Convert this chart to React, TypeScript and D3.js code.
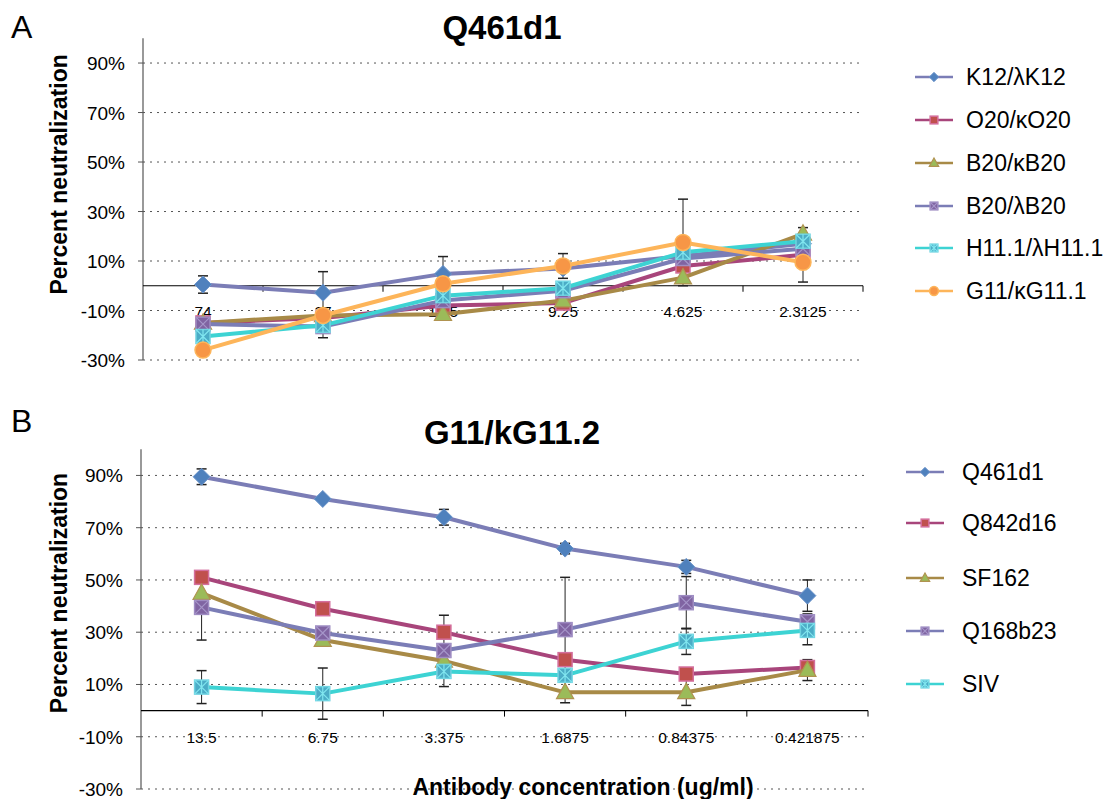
import React from "react";
import * as d3 from "d3";

const FONT = "'Liberation Sans', Arial, sans-serif";

// categories (antibody concentration, ug/ml)
const concA = ["74", "37", "18.5", "9.25", "4.625", "2.3125"];
const concB = ["13.5", "6.75", "3.375", "1.6875", "0.84375", "0.421875"];
const yTicks = [-30, -10, 10, 30, 50, 70, 90];

// panel A: Q461d1
const k12 = [0.5, -2.8, 4.8, 7, 12, 17];
const k12Err = [3.5, 8.5, 7, 0, 0, 0];
const o20 = [-15, -13, -8, -7, 8, 12.5];
const o20Err = [0, 0, 0, 0, 0, 11];
const b20k = [-15, -12, -11.5, -6, 3.3, 21];
const b20kErr = [0, 0, 0, 0, 0, 0];
const b20l = [-15.5, -16.5, -6, -2, 11, 15];
const b20lErr = [0, 4.5, 0, 0, 0, 0];
const h11 = [-20.5, -16, -4, -1, 13.5, 18];
const h11Err = [0, 0, 0, 0, 0, 0];
const g11 = [-26, -12, 0.8, 8, 17.5, 9.5];
const g11Err = [0, 0, 0, 5, 17.5, 0];

// panel B: G11/kG11.2
const q461 = [89.5, 81, 74, 62, 55, 44];
const q461Err = [3, 0, 3, 2, 2.5, 6];
const q842 = [51, 39, 30, 19.5, 14, 16.5];
const q842Err = [0, 0, 6.5, 0, 0, 0];
const sf162 = [45, 27, 19, 7, 7, 15.5];
const sf162Err = [0, 2, 0, 4, 5, 4];
const q168 = [39.5, 29.7, 23, 31, 41.3, 34];
const q168Err = [12.5, 0, 0, 20, 10, 3];
const siv = [9, 6.5, 15, 13.5, 26.5, 30.7];
const sivErr = [6.3, 9.8, 5.8, 0, 5, 5.5];

type Series = { name: string; values: number[]; err: number[]; line: string; marker: string };

const BLUE = "#7b7db6";
const seriesA: Series[] = [
  { name: "K12/λK12", values: k12, err: k12Err, line: BLUE, marker: "diamond" },
  { name: "O20/κO20", values: o20, err: o20Err, line: "#a8457b", marker: "square" },
  { name: "B20/κB20", values: b20k, err: b20kErr, line: "#a88a47", marker: "triangle" },
  { name: "B20/λB20", values: b20l, err: b20lErr, line: BLUE, marker: "xsquare" },
  { name: "H11.1/λH11.1", values: h11, err: h11Err, line: "#3dd3d3", marker: "star" },
  { name: "G11/κG11.1", values: g11, err: g11Err, line: "#fdb55a", marker: "circle" },
];

const seriesB: Series[] = [
  { name: "Q461d1", values: q461, err: q461Err, line: BLUE, marker: "diamond" },
  { name: "Q842d16", values: q842, err: q842Err, line: "#a8457b", marker: "square" },
  { name: "SF162", values: sf162, err: sf162Err, line: "#a88a47", marker: "triangle" },
  { name: "Q168b23", values: q168, err: q168Err, line: BLUE, marker: "xsquare" },
  { name: "SIV", values: siv, err: sivErr, line: "#3dd3d3", marker: "star" },
];

function Marker({ kind, x, y, s = 1 }: { kind: string; x: number; y: number; s?: number }) {
  if (kind === "diamond") {
    const r = 8.5 * s;
    return <path d={`M${x},${y - r}L${x + r},${y}L${x},${y + r}L${x - r},${y}Z`} fill="#4f81bd" stroke="#6e96cb" strokeWidth={1} />;
  }
  if (kind === "square") {
    const h = 7 * s;
    return <rect x={x - h} y={y - h} width={2 * h} height={2 * h} fill="#c0504d" stroke="#d46f9d" strokeWidth={1.5} />;
  }
  if (kind === "triangle") {
    const r = 9 * s;
    return <path d={`M${x},${y - r}L${x + r * 0.95},${y + r * 0.7}L${x - r * 0.95},${y + r * 0.7}Z`} fill="#9bbb59" stroke="#b09350" strokeWidth={1.2} />;
  }
  if (kind === "xsquare") {
    const h = 7 * s;
    return (
      <g>
        <rect x={x - h} y={y - h} width={2 * h} height={2 * h} fill="#8064a2" stroke="#9e8cc2" strokeWidth={1.5} />
        <path d={`M${x - h},${y - h}L${x + h},${y + h}M${x + h},${y - h}L${x - h},${y + h}`} stroke="#a595c9" strokeWidth={1.2} />
      </g>
    );
  }
  if (kind === "star") {
    const h = 7 * s;
    return (
      <g>
        <rect x={x - h} y={y - h} width={2 * h} height={2 * h} fill="#4bacc6" stroke="#6fd2e0" strokeWidth={1.5} />
        <path d={`M${x - h},${y - h}L${x + h},${y + h}M${x + h},${y - h}L${x - h},${y + h}M${x},${y - h}L${x},${y + h}`} stroke="#80e6ef" strokeWidth={1.2} />
      </g>
    );
  }
  return <circle cx={x} cy={y} r={8 * s} fill="#f79646" stroke="#fdb55a" strokeWidth={1.5} />;
}

type PanelProps = {
  letter: string;
  letterY: number;
  title: string;
  titleX: number;
  titleY: number;
  cats: string[];
  series: Series[];
  x0: number;
  x1: number;
  yTop: number;
  yBottom: number;
  gridEnd: number;
  legendLineX: number;
  legendTextX: number;
  legendRows: number[];
};

function Panel(p: PanelProps) {
  const x = d3.scaleBand<string>().domain(p.cats).range([p.x0, p.x1]);
  const y = d3.scaleLinear().domain([-30, 100]).range([p.yBottom, p.yTop]);
  const cx = (c: string) => (x(c) as number) + x.bandwidth() / 2;
  const line = d3
    .line<number>()
    .x((_, i) => cx(p.cats[i]))
    .y((d) => y(d));
  const titleCenter = y(45);
  return (
    <g>
      <text x={11} y={p.letterY} fontSize={32} fontFamily={FONT}>{p.letter}</text>
      <text x={p.titleX} y={p.titleY} fontSize={33} fontWeight="bold" textAnchor="middle" fontFamily={FONT}>{p.title}</text>
      <text transform={`translate(67,${titleCenter}) rotate(-90)`} fontSize={23} fontWeight="bold" textAnchor="middle" fontFamily={FONT}>
        Percent neutralization
      </text>
      {/* grid */}
      {yTicks.map((t) => (
        <line key={"g" + t} x1={p.x0} x2={p.gridEnd} y1={y(t)} y2={y(t)} stroke="#555" strokeWidth={1} strokeDasharray="2,5" />
      ))}
      {/* y axis */}
      <line x1={p.x0} x2={p.x0} y1={p.yTop} y2={p.yBottom} stroke="#555" strokeWidth={1.2} />
      {yTicks.map((t) => (
        <g key={"t" + t}>
          <line x1={p.x0 - 5} x2={p.x0} y1={y(t)} y2={y(t)} stroke="#555" />
          <text x={p.x0 - 18} y={y(t) + 7} fontSize={19} textAnchor="end" fontFamily={FONT}>{t}%</text>
        </g>
      ))}
      {/* x axis at 0 */}
      <line x1={p.x0} x2={p.x1} y1={y(0)} y2={y(0)} stroke="#000" strokeWidth={1.2} />
      {p.cats.map((c) => (
        <line key={"xt" + c} x1={(x(c) as number) + x.bandwidth()} x2={(x(c) as number) + x.bandwidth()} y1={y(0)} y2={y(0) + 6} stroke="#000" />
      ))}
      {p.cats.map((c) => (
        <text key={"xl" + c} x={cx(c)} y={y(-10) + 6} fontSize={15.5} textAnchor="middle" fontFamily={FONT}>{c}</text>
      ))}
      {/* error bars */}
      {p.series.map((s) =>
        s.values.map((v, i) =>
          s.err[i] > 0 ? (
            <g key={s.name + "e" + i} stroke="#222" strokeWidth={1}>
              <line x1={cx(p.cats[i])} x2={cx(p.cats[i])} y1={y(v + s.err[i])} y2={y(v - s.err[i])} />
              <line x1={cx(p.cats[i]) - 5} x2={cx(p.cats[i]) + 5} y1={y(v + s.err[i])} y2={y(v + s.err[i])} strokeWidth={1.5} />
              <line x1={cx(p.cats[i]) - 5} x2={cx(p.cats[i]) + 5} y1={y(v - s.err[i])} y2={y(v - s.err[i])} strokeWidth={1.5} />
            </g>
          ) : null
        )
      )}
      {/* series */}
      {p.series.map((s) => (
        <g key={s.name}>
          <path d={line(s.values) as string} fill="none" stroke={s.line} strokeWidth={4} strokeLinejoin="round" />
          {s.values.map((v, i) => (
            <Marker key={i} kind={s.marker} x={cx(p.cats[i])} y={y(v)} />
          ))}
        </g>
      ))}
      {/* legend */}
      {p.series.map((s, i) => (
        <g key={"lg" + s.name}>
          <line x1={p.legendLineX} x2={p.legendLineX + 38} y1={p.legendRows[i]} y2={p.legendRows[i]} stroke={s.line} strokeWidth={2.5} />
          <Marker kind={s.marker} x={p.legendLineX + 19} y={p.legendRows[i]} s={0.55} />
          <text x={p.legendTextX} y={p.legendRows[i] + 8} fontSize={23} fontFamily={FONT}>{s.name}</text>
        </g>
      ))}
    </g>
  );
}

export default function App() {
  return (
    <svg width={1110} height={799} style={{ position: "absolute", left: 0, top: 0, background: "#fff" }}>
      <rect width={1110} height={799} fill="#fff" />
      <Panel
        letter="A"
        letterY={38}
        title="Q461d1"
        titleX={502}
        titleY={39}
        cats={concA}
        series={seriesA}
        x0={143}
        x1={863}
        yTop={38.3}
        yBottom={360}
        gridEnd={860}
        legendLineX={915}
        legendTextX={966}
        legendRows={[77, 120, 163, 206, 248, 291]}
      />
      <Panel
        letter="B"
        letterY={432}
        title="G11/kG11.2"
        titleX={512}
        titleY={444}
        cats={concB}
        series={seriesB}
        x0={141}
        x1={868}
        yTop={449.3}
        yBottom={789}
        gridEnd={868}
        legendLineX={906}
        legendTextX={962}
        legendRows={[472, 523, 578, 631, 684]}
      />
      <text x={583} y={795} fontSize={23} fontWeight="bold" textAnchor="middle" fontFamily={FONT}>
        Antibody concentration (ug/ml)
      </text>
    </svg>
  );
}
